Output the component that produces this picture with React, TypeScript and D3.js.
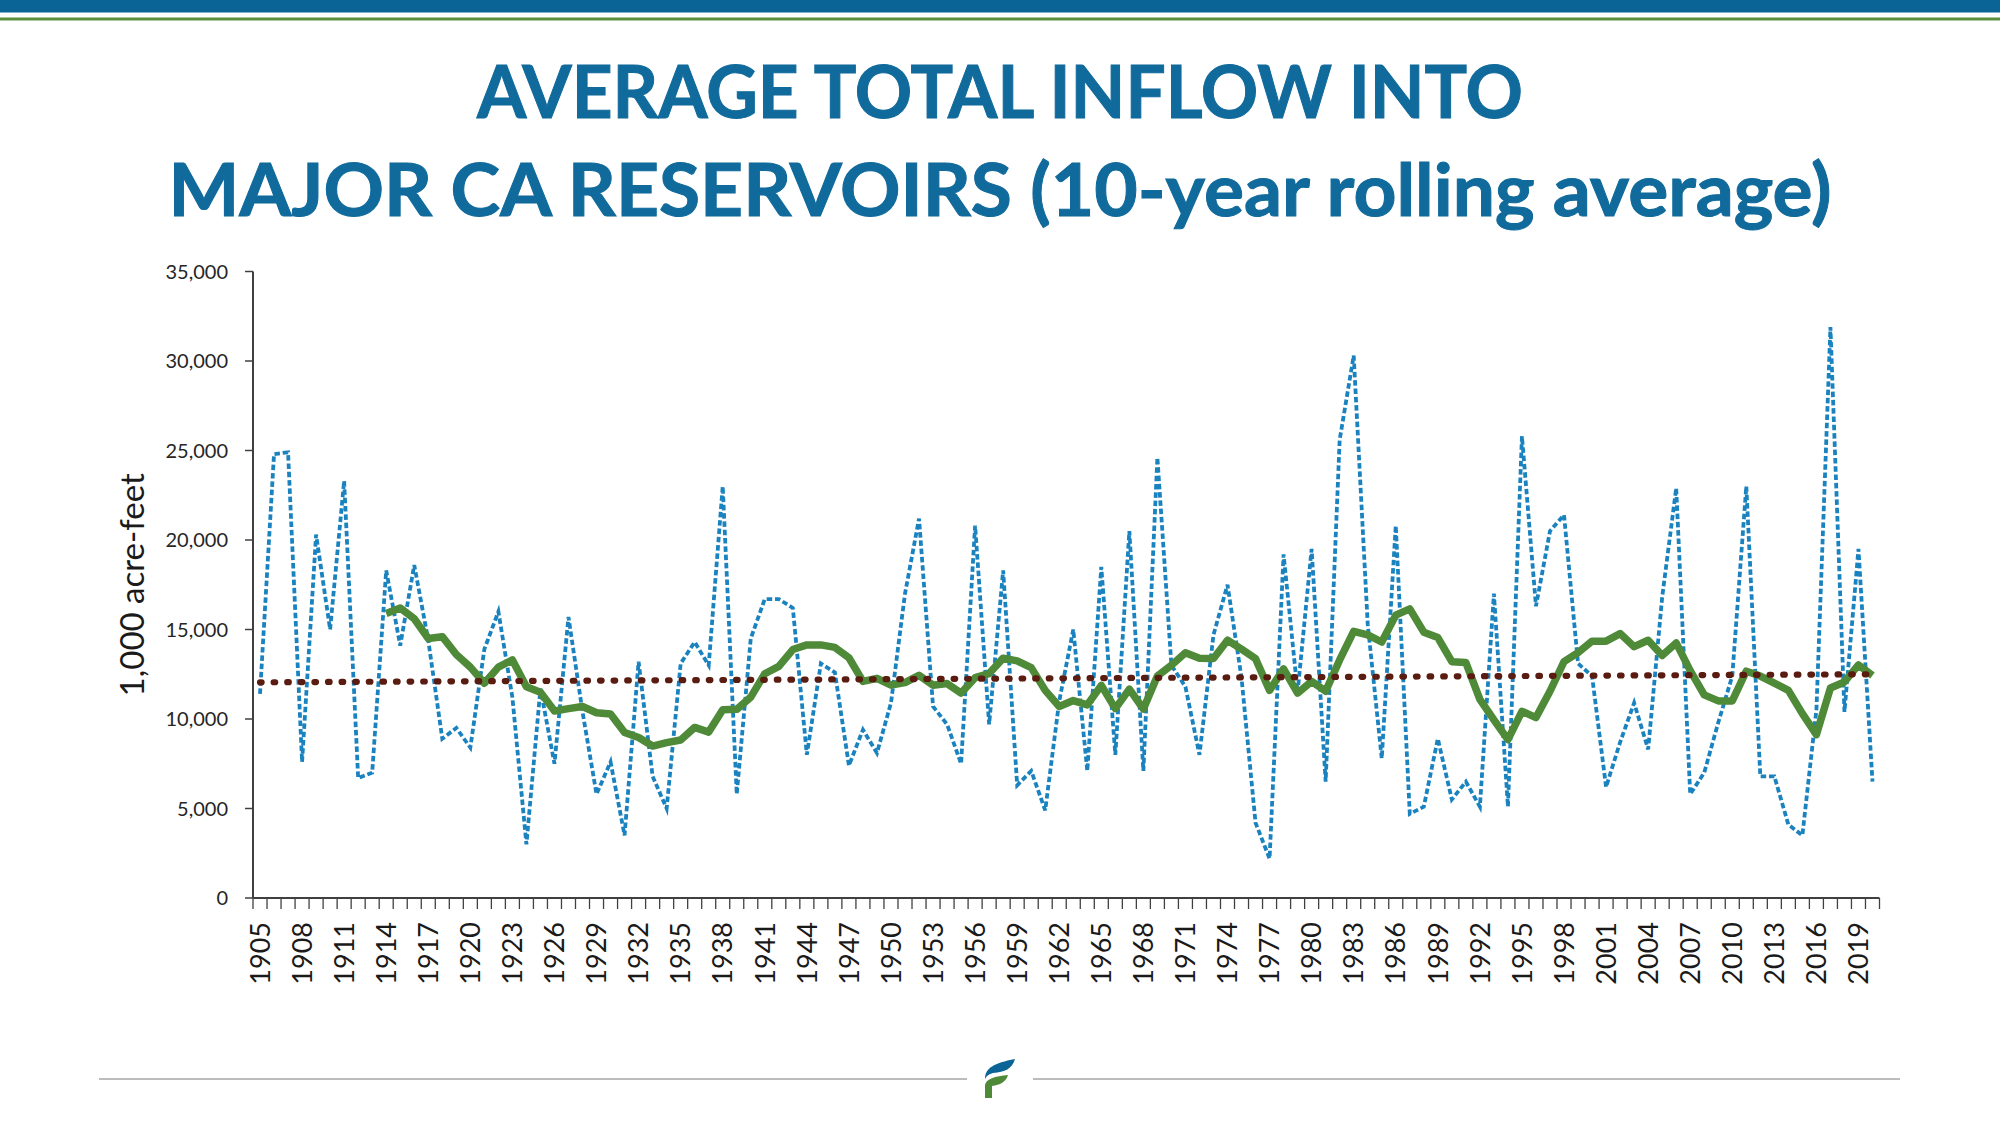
import * as d3 from "d3";

// Years on the category axis
const years = d3.range(1905, 2021);

// Annual total inflow (1,000 acre-feet), 1905-2020
const inflow = [
  11400, 24800, 24900, 7600, 20300, 15000, 23300, 6700, 7000, 18300,
  14100, 18600, 14400, 8900, 9500, 8400, 13900, 16000, 11200, 3000,
  11700, 7500, 15700, 10400, 5800, 7600, 3500, 13200, 6800, 5000,
  13100, 14300, 13000, 23000, 5800, 14500, 16700, 16700, 16200, 8000,
  13100, 12600, 7400, 9400, 8100, 10900, 17000, 21200, 10700, 9700,
  7500, 20800, 9700, 18300, 6300, 7100, 4900, 11000, 15000, 7100,
  18500, 8000, 20500, 7100, 24600, 13000, 11800, 8000, 14700, 17500,
  12300, 4200, 2200, 19200, 11500, 19500, 6500, 25600, 30300, 15300,
  7800, 20800, 4700, 5100, 8900, 5500, 6500, 5100, 17000, 5100,
  25800, 16300, 20500, 21400, 13100, 12400, 6200, 8700, 10900, 8300,
  16800, 22900, 5800, 7000, 9800, 12400, 23000, 6800, 6800, 4100,
  3500, 10500, 31900, 10400, 19500, 6500,
];

// 10-year rolling average, 1914-2020
const rollingStart = 1914;
const rolling = [
  15900, 16200, 15600, 14500, 14600, 13600, 12900, 12000, 12900, 13300,
  11800, 11500, 10450, 10580, 10700, 10350, 10280, 9250, 8970, 8490,
  8680, 8830, 9530, 9270, 10520, 10540, 11220, 12530, 12940, 13880,
  14140, 14140, 14000, 13420, 12100, 12270, 11900, 12030, 12440, 11890,
  11980, 11450, 12310, 12540, 13400, 13250, 12870, 11600, 10700, 11030,
  10790, 11880, 10580, 11670, 10560, 12400, 13000, 13700, 13390, 13380,
  14400, 13900, 13370, 11600, 12800, 11450, 12100, 11550, 13300, 14900,
  14700, 14300, 15800, 16150, 14850, 14550, 13200, 13150, 11100, 9950,
  8850, 10430, 10080, 11550, 13200, 13710, 14350, 14350, 14770, 14040,
  14400, 13550, 14250, 12700, 11350, 11010, 11010, 12670, 12400, 12000,
  11600, 10300, 9130, 11730, 12070, 13020, 12430,
];

// Linear trend end points
const trendYears = [1905, 2020];
const trendValues = [12050, 12500];

const yTicks = [0, 5000, 10000, 15000, 20000, 25000, 30000, 35000];
const titleLines = ["AVERAGE TOTAL INFLOW INTO", "MAJOR CA RESERVOIRS (10-year rolling average)"];
const yLabel = "1,000 acre-feet";

const W = 2000;
const H = 1125;
const plot = { left: 253, right: 1879.5, top: 271.5, bottom: 898 };
const font = "Lato, 'Open Sans', sans-serif";

export default function App() {
  const x = d3.scaleBand<number>().domain(years).range([plot.left, plot.right]);
  const cx = (yr: number) => (x(yr) ?? 0) + x.bandwidth() / 2;
  const y = d3.scaleLinear().domain([0, 35000]).range([plot.bottom, plot.top]);

  const line = d3
    .line<[number, number]>()
    .x((d) => cx(d[0]))
    .y((d) => y(d[1]));

  const inflowPath = line(years.map((yr, i) => [yr, inflow[i]])) ?? "";
  const rollingPath = line(rolling.map((v, i) => [rollingStart + i, v])) ?? "";
  const trendPath = line(trendYears.map((yr, i) => [yr, trendValues[i]])) ?? "";

  const boundaries = [...years.map((yr) => x(yr) ?? 0), plot.right];
  const labelYears = years.filter((_, i) => i % 3 === 0);
  const fmt = d3.format(",");

  return (
    <svg
      width={W}
      height={H}
      viewBox={`0 0 ${W} ${H}`}
      style={{ position: "absolute", left: 0, top: 0, display: "block", background: "#fff" }}
    >
      {/* header bars */}
      <rect x={0} y={0} width={W} height={12.5} fill="#0b6496" />
      <rect x={0} y={17.5} width={W} height={3} fill="#5b8f3e" />

      {/* title */}
      {titleLines.map((t, i) => (
        <text
          key={t}
          x={1000}
          y={i === 0 ? 118 : 216}
          textAnchor="middle"
          fontFamily={font}
          fontWeight={700}
          fontSize={72}
          fill="#106a9b"
          stroke="#106a9b"
          strokeWidth={1}
          textLength={i === 0 ? 1046 : 1663}
          lengthAdjust="spacingAndGlyphs"
        >
          {t}
        </text>
      ))}

      {/* y axis */}
      <line x1={plot.left} x2={plot.left} y1={plot.top} y2={plot.bottom} stroke="#404040" strokeWidth={2} />
      {yTicks.map((t) => (
        <g key={t}>
          <line x1={plot.left - 8} x2={plot.left} y1={y(t)} y2={y(t)} stroke="#404040" strokeWidth={1.5} />
          <text
            x={228}
            y={y(t)}
            dy="0.36em"
            textAnchor="end"
            fontFamily={font}
            fontSize={20}
            fill="#262626"
          >
            {fmt(t)}
          </text>
        </g>
      ))}
      <text
        transform={`translate(132, ${(plot.top + plot.bottom) / 2}) rotate(-90)`}
        dy="0.36em"
        textAnchor="middle"
        fontFamily={font}
        fontSize={33}
        fill="#1a1a1a"
      >
        {yLabel}
      </text>

      {/* x axis */}
      <line x1={plot.left} x2={plot.right} y1={plot.bottom} y2={plot.bottom} stroke="#404040" strokeWidth={2} />
      {boundaries.map((bx, i) => (
        <line key={i} x1={bx} x2={bx} y1={plot.bottom} y2={plot.bottom + 11} stroke="#404040" strokeWidth={1.3} />
      ))}
      {labelYears.map((yr) => (
        <text
          key={yr}
          transform={`translate(${cx(yr)}, 922) rotate(-90)`}
          dy="0.36em"
          textAnchor="end"
          fontFamily={font}
          fontSize={27}
          fill="#1a1a1a"
        >
          {yr}
        </text>
      ))}

      {/* series */}
      <path d={inflowPath} fill="none" stroke="#1a83bf" strokeWidth={3.8} strokeDasharray="5.5 2.8" />
      <path d={rollingPath} fill="none" stroke="#4f8a38" strokeWidth={7.5} strokeLinejoin="round" />
      <path
        d={trendPath}
        fill="none"
        stroke="#5a1c10"
        strokeWidth={6.2}
        strokeLinecap="round"
        strokeDasharray="1.6 12"
      />

      {/* footer */}
      <line x1={99} x2={967} y1={1079} y2={1079} stroke="#a6a6a6" strokeWidth={1.5} />
      <line x1={1033} x2={1900} y1={1079} y2={1079} stroke="#a6a6a6" strokeWidth={1.5} />
      <path
        d="M985,1079 C985,1068 994,1063 1015,1059 C1012,1069 1005,1072 993,1073 C989,1074 986,1076 985,1079 Z"
        fill="#0b6496"
      />
      <path
        d="M985,1098 L985,1085 C986,1079 995,1076 1008,1075 C1006,1082 1000,1085 992,1086 L992,1098 Z"
        fill="#4f8a38"
      />
    </svg>
  );
}
